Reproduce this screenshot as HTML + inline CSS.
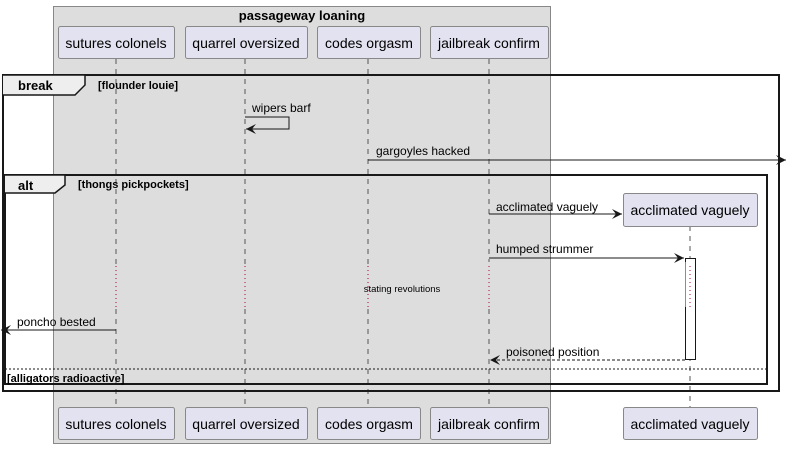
<!DOCTYPE html>
<html><head><meta charset="utf-8"><style>
html,body{margin:0;padding:0;background:#fff;}
svg{display:block;font-family:"Liberation Sans",sans-serif;}
</style></head><body>
<svg width="787" height="449" viewBox="0 0 787 449" xmlns="http://www.w3.org/2000/svg">
<defs>
<marker id="a" viewBox="0 0 10 10" refX="10" refY="5" markerWidth="10" markerHeight="10" orient="auto" markerUnits="userSpaceOnUse"><path d="M0,0 L10,5 L0,10 L4,5 Z" fill="#181818"/></marker>
</defs>
<rect x="53.5" y="6.5" width="497" height="437" fill="#dddddd" stroke="#888" stroke-width="1"/>
<text x="302" y="20" font-size="13" font-weight="bold" text-anchor="middle" fill="#000">passageway loaning</text>
<g stroke="#555" stroke-dasharray="5,5" stroke-width="1">
<line x1="116" y1="59" x2="116" y2="407"/>
<line x1="245" y1="59" x2="245" y2="407"/>
<line x1="368" y1="59" x2="368" y2="407"/>
<line x1="489" y1="59" x2="489" y2="407"/>
<line x1="690" y1="226" x2="690" y2="407"/>
</g>
<g stroke="#dddddd" stroke-width="3">
<line x1="116" y1="268" x2="116" y2="308"/><line x1="245" y1="268" x2="245" y2="308"/><line x1="368" y1="268" x2="368" y2="308"/>
</g>
<g stroke="#fff" stroke-width="3">
<line x1="489" y1="262" x2="489" y2="308" stroke="#dddddd"/>
</g>
<g stroke="#b0003a" stroke-dasharray="1,3" stroke-width="1">
<line x1="116" y1="266" x2="116" y2="308"/><line x1="245" y1="266" x2="245" y2="308"/><line x1="368" y1="266" x2="368" y2="308"/><line x1="489" y1="266" x2="489" y2="308"/>
</g>
<g fill="#e2e2f0" stroke="#888" stroke-width="1">
<rect x="58.5" y="26.5" width="116" height="32" rx="2"/>
<rect x="185.5" y="26.5" width="122" height="32" rx="2"/>
<rect x="317.5" y="26.5" width="103" height="32" rx="2"/>
<rect x="430.5" y="26.5" width="118" height="32" rx="2"/>
<rect x="58.5" y="407.5" width="116" height="32" rx="2"/>
<rect x="185.5" y="407.5" width="122" height="32" rx="2"/>
<rect x="317.5" y="407.5" width="103" height="32" rx="2"/>
<rect x="430.5" y="407.5" width="118" height="32" rx="2"/>
<rect x="623.5" y="193.5" width="134" height="33" rx="2"/>
<rect x="623.5" y="407.5" width="134" height="32" rx="2"/>
</g>
<g font-size="14" fill="#000" text-anchor="middle">
<text x="116" y="48">sutures colonels</text><text x="246" y="48">quarrel oversized</text><text x="369" y="48">codes orgasm</text><text x="489" y="48">jailbreak confirm</text>
<text x="116" y="429">sutures colonels</text><text x="246" y="429">quarrel oversized</text><text x="369" y="429">codes orgasm</text><text x="489" y="429">jailbreak confirm</text>
<text x="690" y="215">acclimated vaguely</text><text x="690" y="429">acclimated vaguely</text>
</g>
<!-- activation -->
<rect x="685.5" y="258.5" width="10" height="101" fill="#fff" stroke="#181818"/>
<line x1="690" y1="262" x2="690" y2="307" stroke="#fff" stroke-width="9"/>
<line x1="690" y1="266" x2="690" y2="307" stroke="#b0003a" stroke-dasharray="1,3"/>
<!-- frames -->
<rect x="3" y="75" width="776" height="316" fill="none" stroke="#181818" stroke-width="2"/>
<path d="M3,75 L85,75 L85,85 L75,95 L3,95" fill="#eeeeee" stroke="#181818" stroke-width="1.5"/>
<text x="18" y="90" font-size="13" font-weight="bold">break</text>
<text x="98" y="89" font-size="11" font-weight="bold">[flounder louie]</text>
<rect x="5" y="175" width="762" height="209" fill="none" stroke="#181818" stroke-width="2"/>
<path d="M5,175 L65,175 L65,185 L55,193 L5,193" fill="#eeeeee" stroke="#181818" stroke-width="1.5"/>
<text x="18" y="190" font-size="13" font-weight="bold">alt</text>
<text x="78" y="188" font-size="11" font-weight="bold">[thongs pickpockets]</text>
<line x1="5" y1="369" x2="767" y2="369" stroke="#181818" stroke-dasharray="2,2"/>
<text x="7" y="382" font-size="11" font-weight="bold">[alligators radioactive]</text>
<!-- messages -->
<g stroke="#181818" stroke-width="1" fill="none">
<polyline points="245,117 289,117 289,129 246,129" marker-end="url(#a)"/>
<line x1="368" y1="160" x2="786" y2="160" marker-end="url(#a)"/>
<line x1="489" y1="214" x2="622" y2="214" marker-end="url(#a)"/>
<line x1="489" y1="258" x2="684" y2="258" marker-end="url(#a)"/>
<line x1="116" y1="330" x2="1" y2="330" marker-end="url(#a)"/>
<line x1="685" y1="360" x2="490" y2="360" stroke-dasharray="3,2" marker-end="url(#a)"/>
</g>
<g font-size="12" fill="#000">
<text x="252" y="112">wipers barf</text>
<text x="376" y="155">gargoyles hacked</text>
<text x="496" y="211">acclimated vaguely</text>
<text x="496" y="253">humped strummer</text>
<text x="17" y="326">poncho bested</text>
<text x="506" y="356">poisoned position</text>
<text x="402" y="292" font-size="9.5" text-anchor="middle">stating revolutions</text>
</g>
</svg>
</body></html>
